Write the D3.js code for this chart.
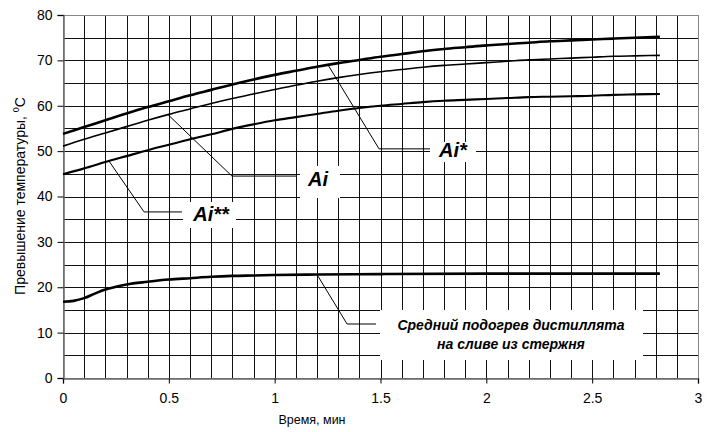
<!DOCTYPE html>
<html><head><meta charset="utf-8">
<script src="https://cdn.jsdelivr.net/npm/d3@7"></script>
<style>body{margin:0;background:#fff} text{font-family:"Liberation Sans",Arial,sans-serif}</style>
</head><body><svg id="c" width="712" height="432"></svg>
<script>
// ---- data ----
const time = [0,0.1,0.2,0.3,0.4,0.5,0.6,0.7,0.8,0.9,1.0,1.1,1.2,1.3,1.4,1.5,1.6,1.7,1.8,1.9,2.0,2.1,2.2,2.3,2.4,2.5,2.6,2.7,2.82];
const aiStar = [53.8,55.3,56.8,58.3,59.7,61.0,62.3,63.5,64.7,65.8,66.8,67.7,68.6,69.4,70.1,70.8,71.4,72.0,72.5,72.9,73.3,73.6,73.9,74.2,74.4,74.6,74.8,75.0,75.2];
const ai = [51.1,52.6,54.0,55.4,56.8,58.1,59.3,60.5,61.6,62.6,63.6,64.5,65.4,66.2,66.9,67.5,68.0,68.5,68.9,69.2,69.5,69.8,70.1,70.3,70.5,70.7,70.9,71.0,71.1];
const aiStarStar = [44.9,46.2,47.6,48.9,50.2,51.4,52.6,53.7,54.9,55.9,56.8,57.5,58.2,58.9,59.5,60.0,60.4,60.8,61.1,61.3,61.5,61.7,61.9,62.0,62.1,62.2,62.4,62.5,62.6];
const timeDist = [0,0.05,0.1,0.15,0.2,0.25,0.3,0.4,0.5,0.6,0.7,0.8,0.9,1.0,1.2,1.5,2.0,2.5,2.82];
const distillate = [16.8,17.0,17.6,18.6,19.5,20.1,20.6,21.2,21.7,22.0,22.3,22.5,22.6,22.7,22.8,22.9,23.0,23.0,23.0];
const xTicks = [0,0.5,1,1.5,2,2.5,3];
const yTicks = [0,10,20,30,40,50,60,70,80];
const xTitle = "Время, мин";
const yTitle = "Превышение температуры, ";
const annLabels = ["Ai*","Ai","Ai**"];
const annLabelDist = ["Средний подогрев дистиллята","на сливе из стержня"];

// ---- layout ----
const svg = d3.select("#c");
const x = d3.scaleLinear().domain([0,3]).range([63,698]);
const y = d3.scaleLinear().domain([0,80]).range([378,15]);

// grid
const gx = d3.range(1,30).map(i=>i/10);
const gy = d3.range(1,16).map(i=>i*5);
const grid = svg.append("g").attr("stroke","#111").attr("stroke-width",1).attr("shape-rendering","crispEdges");
grid.selectAll(".v").data(gx).join("line").attr("x1",d=>Math.round(x(d))+0.5).attr("x2",d=>Math.round(x(d))+0.5).attr("y1",y(80)).attr("y2",y(0));
grid.selectAll(".h").data(gy).join("line").attr("y1",d=>Math.round(y(d))+0.5).attr("y2",d=>Math.round(y(d))+0.5).attr("x1",x(0)).attr("x2",x(3));
// frame
svg.append("rect").attr("x",x(0)+0.5).attr("y",y(80)+0.5).attr("width",x(3)-x(0)).attr("height",y(0)-y(80))
  .attr("fill","none").attr("stroke","#888").attr("shape-rendering","crispEdges");

// axes
const xAxis = svg.append("g").attr("transform",`translate(0,${Math.round(y(0))+0.5})`)
  .call(d3.axisBottom(x).tickValues(xTicks).tickFormat(d=>String(d)).tickSize(5).tickPadding(10));
const yAxis = svg.append("g").attr("transform",`translate(${Math.round(x(0))+0.5},0)`)
  .call(d3.axisLeft(y).tickValues(yTicks).tickFormat(d=>String(d)).tickSize(6).tickPadding(5));
[xAxis,yAxis].forEach(a=>{
  a.select(".domain").attr("stroke","#666").attr("stroke-width",1.5);
  a.selectAll(".tick line").attr("stroke","#000");
  a.selectAll(".tick text").attr("font-size",14).attr("fill","#000").style("font-family","'Liberation Sans',Arial,sans-serif");
});

// titles
svg.append("text").attr("x",312).attr("y",424).attr("text-anchor","middle").attr("font-size",12.5).text(xTitle);
const yt = svg.append("text").attr("transform","translate(25,196) rotate(-90)").attr("text-anchor","middle").attr("font-size",14);
yt.append("tspan").text(yTitle);
yt.append("tspan").attr("font-size",9).attr("dy",-6).text("0");
yt.append("tspan").attr("dy",6).text("C");

// curves
const line = d3.line().x(d=>x(d[0])).y(d=>y(d[1])).curve(d3.curveMonotoneX);
const series = [
  {t:time, v:aiStar, w:2.6},
  {t:time, v:ai, w:1.6},
  {t:time, v:aiStarStar, w:2.1},
  {t:timeDist, v:distillate, w:2.6}
];
series.forEach(s=>{
  svg.append("path").datum(s.t.map((t,i)=>[t,s.v[i]])).attr("d",line)
    .attr("fill","none").attr("stroke","#000").attr("stroke-width",s.w).attr("stroke-linejoin","round");
});

// annotations: anchor on curve, elbow, end (data coords), box (px)
function interp(ts,vs,t){ return d3.scaleLinear().domain(ts).range(vs)(t); }
const anns = [
  {ax:1.252, s:0, ex:1.493, ey:50.5, hx:1.748, box:[430,142,46,20], text:[annLabels[0]], tx:453, ty:[157], fs:20},
  {ax:0.496, s:1, ex:0.798, ey:44.5, hx:1.105, box:[300,166,40,32], text:[annLabels[1]], tx:318, ty:[186], fs:20},
  {ax:0.217, s:2, ex:0.383, ey:36.6, hx:0.562, box:[183,202,53,26], text:[annLabels[2]], tx:211, ty:[221], fs:20},
  {ax:1.2, s:3, ex:1.342, ey:11.9, hx:1.479, box:[380,310,263,50], text:annLabelDist, tx:511, ty:[330,349], fs:14}
];
anns.forEach(a=>{
  const s = series[a.s];
  const ay = interp(s.t,s.v,a.ax);
  svg.append("polyline").attr("points",[[x(a.ax),y(ay)],[x(a.ex),y(a.ey)],[x(a.hx),y(a.ey)]].map(p=>p.join(",")).join(" "))
    .attr("fill","none").attr("stroke","#000").attr("stroke-width",1);
  svg.append("rect").attr("x",a.box[0]).attr("y",a.box[1]).attr("width",a.box[2]).attr("height",a.box[3]).attr("fill","#fff");
  a.text.forEach((t,i)=>{
    svg.append("text").attr("x",a.tx).attr("y",a.ty[i]).attr("text-anchor","middle")
      .attr("font-size",a.fs).attr("font-weight","bold").attr("font-style","italic").text(t);
  });
});
</script></body></html>
